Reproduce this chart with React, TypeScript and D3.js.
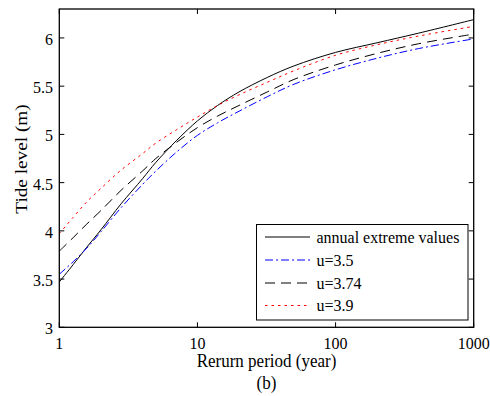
import React from "react";
import * as d3 from "d3";

const returnPeriods = [1, 1.26, 1.58, 2, 2.8, 4, 5, 7.1, 10, 14, 20, 32, 50, 100, 200, 400, 1000];
const annualExtreme = [3.47, 3.65, 3.83, 4.01, 4.28, 4.54, 4.71, 4.94, 5.14, 5.3, 5.44, 5.59, 5.71, 5.85, 5.95, 6.05, 6.19];
const u35 = [3.55, 3.68, 3.82, 3.99, 4.24, 4.48, 4.62, 4.82, 4.99, 5.12, 5.24, 5.39, 5.52, 5.67, 5.79, 5.89, 5.99];
const u374 = [3.79, 3.93, 4.07, 4.21, 4.42, 4.62, 4.75, 4.92, 5.07, 5.19, 5.3, 5.44, 5.57, 5.72, 5.84, 5.94, 6.04];
const u39 = [3.97, 4.14, 4.3, 4.44, 4.63, 4.8, 4.91, 5.05, 5.18, 5.3, 5.41, 5.54, 5.66, 5.82, 5.93, 6.02, 6.12];

const seriesNames = ["annual extreme values", "u=3.5", "u=3.74", "u=3.9"];
const xTicks = [1, 10, 100, 1000];
const yTicks = [3, 3.5, 4, 4.5, 5, 5.5, 6];

const W = 490;
const H = 396;
const L = 59.3, R = 473.7, T = 9, B = 327.3;
const FONT = "'Liberation Serif', 'Times New Roman', serif";
const SY = 1.1;

function Txt({ x, y, size, anchor, children }: any) {
  const tr = `translate(${x},${y}) scale(1,${SY})`;
  return (
    <text transform={tr} textAnchor={anchor || "start"} fontFamily={FONT} fontSize={size} fill="#000">
      {children}
    </text>
  );
}

export default function App() {
  const x = d3.scaleLog().domain([1, 1000]).range([L, R]);
  const y = d3.scaleLinear().domain([3, 6.3]).range([B, T]);

  const series = [
    { name: seriesNames[0], values: annualExtreme, color: "#000000", dash: "" },
    { name: seriesNames[1], values: u35, color: "#0000ff", dash: "8,3,2,3" },
    { name: seriesNames[2], values: u374, color: "#000000", dash: "10,6" },
    { name: seriesNames[3], values: u39, color: "#ff0000", dash: "2.5,4" },
  ];

  const line = d3
    .line<[number, number]>()
    .x((d) => x(d[0]))
    .y((d) => y(d[1]))
    .curve(d3.curveCatmullRom.alpha(0.5));

  const tickLen = 5;
  const legX = 256.5, legY = 224.5, legW = 211.5, legH = 95.5;
  const rowY = [237, 260, 283, 305.5];

  return (
    <svg width={W} height={H} style={{ position: "absolute", left: 0, top: 0, background: "#fff" }}>
      <rect x={0} y={0} width={W} height={H} fill="#fff" />
      <defs>
        <clipPath id="plot">
          <rect x={L} y={T} width={R - L} height={B - T} />
        </clipPath>
      </defs>
      <g clipPath="url(#plot)">
        {series.map((s, i) => (
          <path
            key={i}
            d={line(returnPeriods.map((t, j) => [t, s.values[j]] as [number, number])) || ""}
            fill="none"
            stroke={s.color}
            strokeWidth={1}
            strokeDasharray={s.dash || undefined}
          />
        ))}
      </g>
      <rect x={L} y={T} width={R - L} height={B - T} fill="none" stroke="#000" strokeWidth={1.3} />
      {xTicks.map((t, i) => (
        <g key={"xt" + i}>
          <line x1={x(t)} x2={x(t)} y1={B} y2={B - tickLen} stroke="#000" />
          <line x1={x(t)} x2={x(t)} y1={T} y2={T + tickLen} stroke="#000" />
          <Txt x={x(t)} y={348.5} size={16} anchor="middle">{t}</Txt>
        </g>
      ))}
      {yTicks.map((t, i) => (
        <g key={"yt" + i}>
          <line x1={L} x2={L + tickLen} y1={y(t)} y2={y(t)} stroke="#000" />
          <line x1={R} x2={R - tickLen} y1={y(t)} y2={y(t)} stroke="#000" />
          <Txt x={53} y={y(t) + 7} size={16} anchor="end">{t}</Txt>
        </g>
      ))}
      <Txt x={(L + R) / 2} y={367} size={17} anchor="middle">Rerurn period (year)</Txt>
      <Txt x={(L + R) / 2} y={388.5} size={17} anchor="middle">(b)</Txt>
      <text
        transform={`translate(27,159) scale(1,${SY}) rotate(-90)`}
        textAnchor="middle"
        fontFamily={FONT}
        fontSize={17.5}
        fill="#000"
      >
        Tide level (m)
      </text>
      <rect x={legX} y={legY} width={legW} height={legH} fill="#fff" stroke="#000" strokeWidth={1} />
      {series.map((s, i) => (
        <g key={"lg" + i}>
          <line
            x1={265}
            x2={310}
            y1={rowY[i]}
            y2={rowY[i]}
            stroke={s.color}
            strokeWidth={1}
            strokeDasharray={s.dash || undefined}
          />
          <Txt x={316.5} y={rowY[i] + 5.5} size={16}>{s.name}</Txt>
        </g>
      ))}
    </svg>
  );
}
